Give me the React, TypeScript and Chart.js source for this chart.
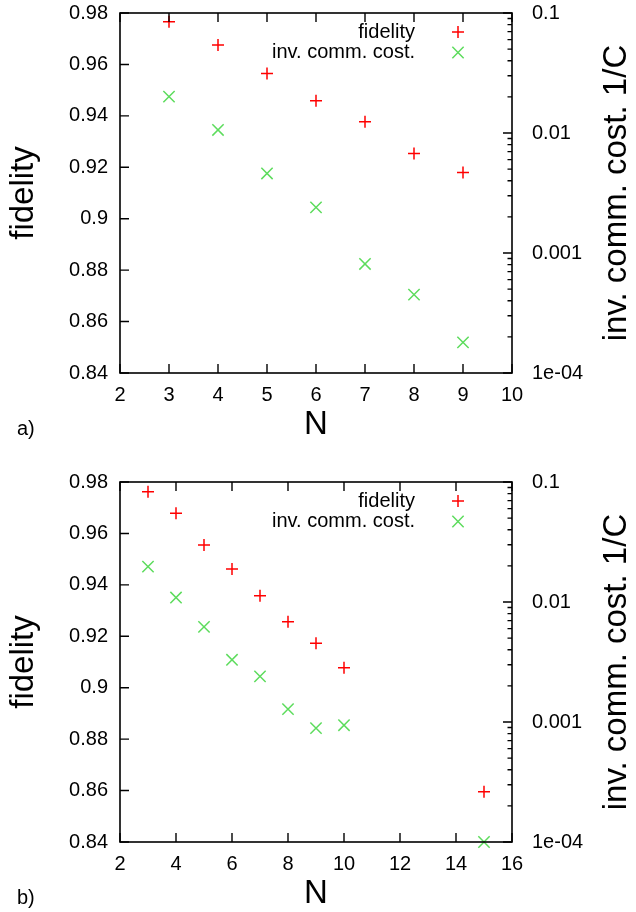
import React, { useEffect, useRef } from "react";
import { Chart, registerables } from "chart.js";

Chart.register(...registerables);

// ---- data: panel a ----
const nA = [3, 4, 5, 6, 7, 8, 9];
const fidelityA = [0.9766, 0.9676, 0.9565, 0.9459, 0.9377, 0.9254, 0.918];
const costA = [0.0201, 0.0106, 0.0046, 0.0024, 0.00081, 0.00045, 0.00018];

// ---- data: panel b ----
const nB = [3, 4, 5, 6, 7, 8, 9, 10, 15];
const fidelityB = [0.9762, 0.9678, 0.9555, 0.9462, 0.9358, 0.9257, 0.9173, 0.9078, 0.8595];
const costB = [0.0197, 0.0109, 0.0062, 0.0033, 0.0024, 0.00128, 0.00089, 0.00094, 0.0001];

// ---- ticks ----
const nTicksA = [2, 3, 4, 5, 6, 7, 8, 9, 10];
const nTicksB = [2, 4, 6, 8, 10, 12, 14, 16];
const fidelityTicks = [0.84, 0.86, 0.88, 0.9, 0.92, 0.94, 0.96, 0.98];
const fidelityTickLabels = ["0.84", "0.86", "0.88", "0.9", "0.92", "0.94", "0.96", "0.98"];
const costTicks = [0.0001, 0.001, 0.01, 0.1];
const costTickLabels = ["1e-04", "0.001", "0.01", "0.1"];

// ---- labels ----
const seriesLabels = ["fidelity", "inv. comm. cost."];
const xTitle = "N";
const yTitle = "fidelity";
const y1Title = "inv. comm. cost. 1/C";
const panelLabels = ["a)", "b)"];

const FONT = "'Liberation Sans', Arial, Helvetica, sans-serif";
const RED = "#ff0000";
const GREEN = "#5ddc5d";

function drawPlus(ctx: CanvasRenderingContext2D, x: number, y: number, r: number) {
  ctx.beginPath();
  ctx.moveTo(x - r, y);
  ctx.lineTo(x + r, y);
  ctx.moveTo(x, y - r);
  ctx.lineTo(x, y + r);
  ctx.stroke();
}
function drawX(ctx: CanvasRenderingContext2D, x: number, y: number, r: number) {
  const d = r * Math.SQRT1_2;
  ctx.beginPath();
  ctx.moveTo(x - d, y - d);
  ctx.lineTo(x + d, y + d);
  ctx.moveTo(x - d, y + d);
  ctx.lineTo(x + d, y - d);
  ctx.stroke();
}

function makeDecor(panelLabel: string) {
  return {
    id: "decor",
    afterDraw(chart: any) {
      const ctx: CanvasRenderingContext2D = chart.ctx;
      const { left, right, top, bottom } = chart.chartArea;
      const xs = chart.scales.x;
      const ys = chart.scales.y;
      const y1 = chart.scales.y1;
      ctx.save();
      ctx.strokeStyle = "#000";
      ctx.lineWidth = 1.6;
      ctx.strokeRect(left, top, right - left, bottom - top);
      ctx.lineWidth = 1.4;
      const TL = 9;
      ctx.beginPath();
      xs.ticks.forEach((t: any) => {
        const px = xs.getPixelForValue(t.value);
        ctx.moveTo(px, bottom);
        ctx.lineTo(px, bottom - TL);
        ctx.moveTo(px, top);
        ctx.lineTo(px, top + TL);
      });
      ys.ticks.forEach((t: any) => {
        const py = ys.getPixelForValue(t.value);
        ctx.moveTo(left, py);
        ctx.lineTo(left + TL, py);
      });
      // log ticks on right axis
      const lo = Math.round(Math.log10(y1.min));
      const hi = Math.round(Math.log10(y1.max));
      for (let e = lo; e <= hi; e++) {
        for (let m = 1; m <= 9; m++) {
          const v = m * Math.pow(10, e);
          if (v > y1.max * 1.0001) break;
          const py = y1.getPixelForValue(v);
          const len = m === 1 ? TL : TL / 2;
          ctx.moveTo(right, py);
          ctx.lineTo(right - len, py);
        }
      }
      ctx.stroke();

      // legend
      ctx.fillStyle = "#000";
      ctx.font = `20px ${FONT}`;
      ctx.textAlign = "right";
      ctx.textBaseline = "middle";
      const rows = [top + 19, top + 39.5];
      chart.data.datasets.forEach((ds: any, i: number) => {
        ctx.fillText(ds.label, right - 97, rows[i]);
        ctx.strokeStyle = ds.borderColor;
        ctx.lineWidth = 1.5;
        if (i === 0) drawPlus(ctx, right - 54, rows[i], 6);
        else drawX(ctx, right - 54, rows[i], 8);
      });

      // titles
      ctx.fillStyle = "#000";
      ctx.font = `33px ${FONT}`;
      ctx.textAlign = "center";
      ctx.textBaseline = "middle";
      ctx.fillText(xTitle, (left + right) / 2, 425);
      const cy = (top + bottom) / 2;
      ctx.save();
      ctx.translate(24, cy);
      ctx.rotate(-Math.PI / 2);
      ctx.fillText(yTitle, 0, 0);
      ctx.restore();
      ctx.save();
      ctx.translate(617, cy);
      ctx.rotate(-Math.PI / 2);
      ctx.fillText(y1Title, 0, 0);
      ctx.restore();

      ctx.font = `20px ${FONT}`;
      ctx.textAlign = "left";
      ctx.fillText(panelLabel, 17, 429);
      ctx.restore();
    },
  };
}

function zeroPad(s: any) {
  s.paddingTop = 0;
  s.paddingBottom = 0;
  s.paddingLeft = 0;
  s.paddingRight = 0;
}

function buildConfig(n: number[], fid: number[], cost: number[], nTicks: number[], canvasH: number, panelLabel: string): any {
  const tickFont = { family: FONT, size: 20 };
  return {
    type: "scatter",
    data: {
      datasets: [
        {
          label: seriesLabels[0],
          data: n.map((x, i) => ({ x, y: fid[i] })),
          yAxisID: "y",
          pointStyle: "cross",
          pointRadius: 6,
          pointBorderWidth: 1.5,
          borderColor: RED,
          backgroundColor: RED,
          showLine: false,
          clip: false,
        },
        {
          label: seriesLabels[1],
          data: n.map((x, i) => ({ x, y: cost[i] })),
          yAxisID: "y1",
          pointStyle: "crossRot",
          pointRadius: 8,
          pointBorderWidth: 1.5,
          borderColor: GREEN,
          backgroundColor: GREEN,
          showLine: false,
          clip: false,
        },
      ],
    },
    options: {
      animation: false,
      responsive: false,
      devicePixelRatio: 1,
      layout: { padding: { top: 13, left: 0, right: 0, bottom: canvasH - 443 } },
      plugins: { legend: { display: false }, tooltip: { enabled: false } },
      events: [],
      scales: {
        x: {
          type: "linear",
          position: "bottom",
          min: nTicks[0],
          max: nTicks[nTicks.length - 1],
          afterBuildTicks: (s: any) => {
            s.ticks = nTicks.map((v) => ({ value: v }));
          },
          afterFit: (s: any) => {
            s.height = 70;
            zeroPad(s);
          },
          ticks: { font: tickFont, color: "#000", padding: 10, maxRotation: 0, autoSkip: false, callback: (v: any) => String(v) },
          grid: { display: false, drawTicks: false },
          border: { display: false },
        },
        y: {
          type: "linear",
          position: "left",
          min: fidelityTicks[0],
          max: fidelityTicks[fidelityTicks.length - 1],
          afterBuildTicks: (s: any) => {
            s.ticks = fidelityTicks.map((v) => ({ value: v }));
          },
          afterFit: (s: any) => {
            s.width = 120;
            zeroPad(s);
          },
          ticks: {
            font: tickFont,
            color: "#000",
            padding: 12,
            autoSkip: false,
            callback: (_v: any, i: number) => fidelityTickLabels[i],
          },
          grid: { display: false, drawTicks: false },
          border: { display: false },
        },
        y1: {
          type: "logarithmic",
          position: "right",
          min: costTicks[0],
          max: costTicks[costTicks.length - 1],
          afterBuildTicks: (s: any) => {
            s.ticks = costTicks.map((v) => ({ value: v, major: true }));
          },
          afterFit: (s: any) => {
            s.width = 124;
            zeroPad(s);
          },
          ticks: {
            font: tickFont,
            color: "#000",
            padding: 20,
            autoSkip: false,
            callback: (_v: any, i: number) => costTickLabels[i],
          },
          grid: { display: false, drawTicks: false },
          border: { display: false },
        },
      },
    },
    plugins: [makeDecor(panelLabel)],
  };
}

function Panel(props: { n: number[]; fid: number[]; cost: number[]; nTicks: number[]; h: number; top: number; label: string }) {
  const ref = useRef<HTMLCanvasElement | null>(null);
  useEffect(() => {
    if (!ref.current) return;
    const chart = new Chart(ref.current, buildConfig(props.n, props.fid, props.cost, props.nTicks, props.h, props.label));
    return () => chart.destroy();
  }, []);
  return (
    <canvas
      ref={ref}
      width={636}
      height={props.h}
      style={{ position: "absolute", left: 0, top: props.top, width: 636, height: props.h, display: "block" }}
    />
  );
}

export default function App() {
  return (
    <div style={{ position: "absolute", left: 0, top: 0, width: 636, height: 912, background: "#fff", overflow: "hidden" }}>
      <Panel n={nA} fid={fidelityA} cost={costA} nTicks={nTicksA} h={469} top={0} label={panelLabels[0]} />
      <Panel n={nB} fid={fidelityB} cost={costB} nTicks={nTicksB} h={443} top={469} label={panelLabels[1]} />
    </div>
  );
}
